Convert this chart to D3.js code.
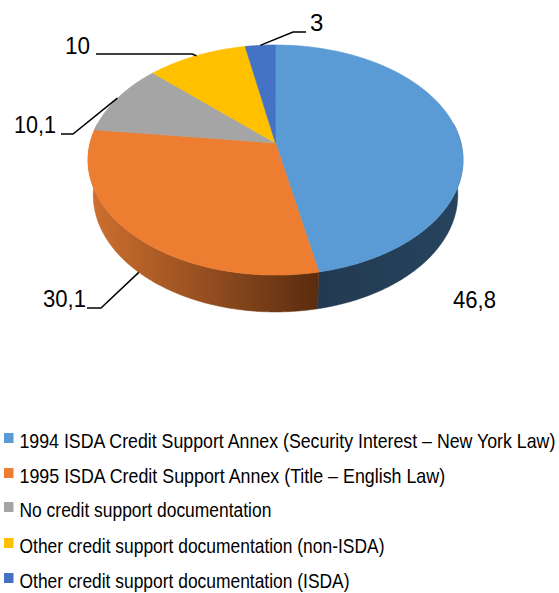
<!DOCTYPE html>
<html><head><meta charset="utf-8">
<script src="https://cdn.jsdelivr.net/npm/d3@7"></script>
<style>body{margin:0;background:#fff} svg{display:block}</style>
</head><body>
<script>
// ---- data ----
const categories = [
  "1994 ISDA Credit Support Annex (Security Interest \u2013 New York Law)",
  "1995 ISDA Credit Support Annex (Title \u2013 English Law)",
  "No credit support documentation",
  "Other credit support documentation (non-ISDA)",
  "Other credit support documentation (ISDA)"
];
const values = [46.8, 30.1, 10.1, 10, 3];
const valueLabels = ["46,8", "30,1", "10,1", "10", "3"];
const colors = ["#5B9BD5", "#ED7D31", "#A5A5A5", "#FFC000", "#4472C4"];

// ---- layout ----
const W = 559, H = 593;
const svg = d3.select("body").append("svg").attr("width", W).attr("height", H);
const defs = svg.append("defs");

// perspective projection of a disc (radius 1) seen from above
const cx = 275.5, cy = 143, F = 995.6, D = 5.37, phi = Math.asin(0.607), thick = 0.245;
const cphi = Math.cos(phi), sphi = Math.sin(phi);
function proj(X, Y, Z) {
  const d = D + Y * cphi - Z * sphi;
  const yc = Y * sphi + Z * cphi;
  return [cx + F * X / d, cy - F * yc / d];
}
function rim(t, Z) { return proj(Math.sin(t), Math.cos(t), Z); }

const arcs = d3.pie().sort(null).value(d => d)(values);

// side gradients
const gBlue = defs.append("linearGradient").attr("id", "sideBlue")
  .attr("gradientUnits", "userSpaceOnUse").attr("x1", 318).attr("x2", 463).attr("y1", 0).attr("y2", 0);
gBlue.append("stop").attr("offset", 0).attr("stop-color", "#223A51");
gBlue.append("stop").attr("offset", 1).attr("stop-color", "#27435E");
const gOr = defs.append("linearGradient").attr("id", "sideOrange")
  .attr("gradientUnits", "userSpaceOnUse").attr("x1", 92).attr("x2", 318).attr("y1", 0).attr("y2", 0);
gOr.append("stop").attr("offset", 0).attr("stop-color", "#CD6F2E");
gOr.append("stop").attr("offset", 0.55).attr("stop-color", "#8F4B1E");
gOr.append("stop").attr("offset", 1).attr("stop-color", "#5A2C0E");
const sideColor = ["url(#sideBlue)", "url(#sideOrange)", "#6E6E6E", "#A87F00", "#2D4C83"];

// sides (visible front part): one outline per slice
const lo = 80 * Math.PI / 180, hi = 280 * Math.PI / 180;
const sideG = svg.append("g");
arcs.forEach((a, i) => {
  const s = Math.max(a.startAngle, lo), e = Math.min(a.endAngle, hi);
  if (e <= s) return;
  const n = Math.max(2, Math.ceil((e - s) / (Math.PI / 360)));
  const top = [], bot = [];
  for (let k = 0; k <= n; k++) {
    const t = s + (e - s) * k / n;
    top.push(rim(t, 0));
    bot.push(rim(t, -thick));
  }
  const pts = top.concat(bot.reverse());
  sideG.append("path").attr("d", "M" + pts.map(p => p.join(",")).join("L") + "Z")
    .attr("fill", sideColor[i]).attr("stroke", sideColor[i]).attr("stroke-width", 0.5);
});

// top faces
const topG = svg.append("g");
arcs.forEach((a, i) => {
  const n = Math.max(4, Math.ceil((a.endAngle - a.startAngle) / (Math.PI / 360)));
  const pts = [proj(0, 0, 0)];
  for (let k = 0; k <= n; k++) pts.push(rim(a.startAngle + (a.endAngle - a.startAngle) * k / n, 0));
  topG.append("path").attr("d", "M" + pts.map(p => p.join(",")).join("L") + "Z")
    .attr("fill", colors[i]).attr("stroke", colors[i]).attr("stroke-width", 0.6);
});

// fitted text helper: draws text at (x, baseline y) squeezed horizontally to width w
function fitText(parent, x, y, w, size, str) {
  const g = parent.append("g");
  const t = g.append("text").attr("x", 0).attr("y", 0)
    .attr("font-family", "'Liberation Sans', Arial, sans-serif").attr("font-size", size)
    .attr("fill", "#000").text(str);
  const nat = t.node().getComputedTextLength();
  const sx = Math.min(1, w / nat);
  g.attr("transform", `translate(${x},${y}) scale(${sx},1)`);
}

// labels with leader lines
const labelLayout = [
  { x: 453, y: 308, w: 41, leader: null },
  { x: 43, y: 307, w: 41, leader: [[87, 308], [101, 308]], z: -thick },
  { x: 14, y: 133, w: 40, leader: [[61, 134], [73, 134]], z: 0 },
  { x: 65, y: 54, w: 23, leader: [[96, 54], [192, 54]], z: 0 },
  { x: 310, y: 31, w: 12, leader: [[306, 32], [293, 32]], z: 0 }
];
const labG = svg.append("g");
arcs.forEach((a, i) => {
  const L = labelLayout[i];
  if (L.leader) {
    const mid = (a.startAngle + a.endAngle) / 2;
    const pts = L.leader.concat([rim(mid, L.z)]);
    labG.append("path").attr("d", d3.line()(pts))
      .attr("fill", "none").attr("stroke", "#000").attr("stroke-width", 1.5);
  }
  fitText(labG, L.x, L.y, L.w + 2, 24, valueLabels[i]);
});

// legend
const legendBase = [448, 483, 517, 553, 588];
const legendWidths = [536, 426, 252, 365, 330];
const leg = svg.append("g");
categories.forEach((c, i) => {
  leg.append("rect").attr("x", 4).attr("y", legendBase[i] - 15).attr("width", 9.5).attr("height", 10)
    .attr("fill", colors[i]);
  fitText(leg, 19.5, legendBase[i], legendWidths[i], 20, c);
});
</script>
</body></html>
